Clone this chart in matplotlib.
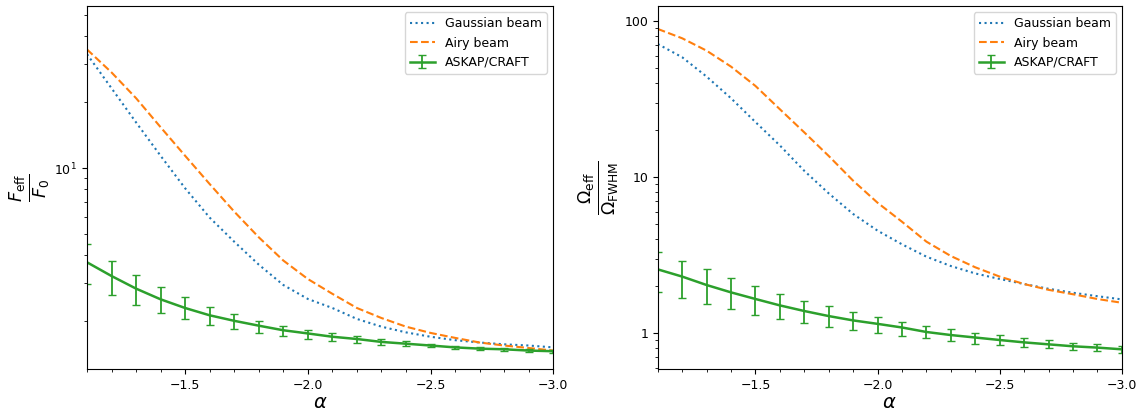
import numpy as np
import matplotlib
matplotlib.use("Agg")
import matplotlib.pyplot as plt
from matplotlib.ticker import MultipleLocator, ScalarFormatter, NullFormatter

# spectral index grid
alpha = [-1.1, -1.2, -1.3, -1.4, -1.5, -1.6, -1.7, -1.8, -1.9, -2.0,
         -2.1, -2.2, -2.3, -2.4, -2.5, -2.6, -2.7, -2.8, -2.9, -3.0]

# left panel: F_eff / F_0
f_gauss = [33.2, 23.2, 16.2, 11.4, 8.1, 5.95, 4.62, 3.63, 2.93, 2.53,
           2.30, 2.05, 1.89, 1.78, 1.70, 1.64, 1.60, 1.57, 1.55, 1.52]
f_airy = [34.9, 27.4, 20.9, 15.4, 11.4, 8.47, 6.34, 4.84, 3.79, 3.12,
          2.67, 2.30, 2.07, 1.89, 1.77, 1.68, 1.60, 1.55, 1.51, 1.47]
f_askap = [3.72, 3.22, 2.82, 2.52, 2.30, 2.13, 2.01, 1.91, 1.82, 1.76,
           1.70, 1.66, 1.61, 1.58, 1.55, 1.52, 1.50, 1.49, 1.47, 1.46]
f_askap_hi = [4.50, 3.79, 3.26, 2.86, 2.57, 2.33, 2.15, 2.01, 1.91, 1.83,
              1.77, 1.71, 1.66, 1.62, 1.58, 1.55, 1.52, 1.51, 1.49, 1.48]
f_askap_lo = [2.95, 2.63, 2.38, 2.19, 2.04, 1.93, 1.85, 1.77, 1.71, 1.66,
              1.63, 1.59, 1.56, 1.54, 1.52, 1.50, 1.48, 1.47, 1.45, 1.44]

# right panel: Omega_eff / Omega_FWHM
o_gauss = [71.5, 58.8, 44.2, 32.1, 22.6, 16.0, 11.0, 7.89, 5.82, 4.55,
           3.72, 3.10, 2.70, 2.42, 2.23, 2.07, 1.93, 1.82, 1.73, 1.65]
o_airy = [89.3, 77.8, 64.8, 51.2, 38.5, 27.3, 19.4, 13.7, 9.51, 6.87,
          5.19, 3.87, 3.13, 2.65, 2.31, 2.07, 1.90, 1.78, 1.66, 1.57]
o_askap = [2.57, 2.31, 2.04, 1.83, 1.66, 1.51, 1.39, 1.29, 1.21, 1.15,
           1.09, 1.02, 0.975, 0.94, 0.906, 0.875, 0.85, 0.826, 0.81, 0.79]
o_askap_hi = [3.34, 2.92, 2.57, 2.27, 2.01, 1.79, 1.62, 1.49, 1.36, 1.27,
              1.19, 1.12, 1.06, 1.01, 0.97, 0.935, 0.90, 0.87, 0.85, 0.83]
o_askap_lo = [1.85, 1.69, 1.55, 1.43, 1.32, 1.23, 1.16, 1.10, 1.05, 1.00,
              0.96, 0.93, 0.89, 0.86, 0.84, 0.82, 0.80, 0.785, 0.77, 0.75]

fig = plt.figure(figsize=(11.4, 4.11), dpi=100)
ax1 = fig.add_axes([0.0763, 0.102, 0.409, 0.883])
ax2 = fig.add_axes([0.577, 0.102, 0.407, 0.883])

panels = [
    (ax1, f_gauss, f_airy, f_askap, f_askap_lo, f_askap_hi,
     r"$\frac{F_{\rm eff}}{F_0}$", (1.21, 55)),
    (ax2, o_gauss, o_airy, o_askap, o_askap_lo, o_askap_hi,
     r"$\frac{\Omega_{\rm eff}}{\Omega_{\rm FWHM}}$", (0.59, 125)),
]

for ax, g, a, s, lo, hi, ylab, ylim in panels:
    s = np.array(s)
    yerr = [s - np.array(lo), np.array(hi) - s]
    ax.plot(alpha, g, ':', color='C0', lw=1.5, label='Gaussian beam')
    ax.plot(alpha, a, '--', color='C1', lw=1.5, label='Airy beam')
    ax.errorbar(alpha, s, yerr=yerr, color='C2', lw=1.8, capsize=3,
                elinewidth=1.3, label='ASKAP/CRAFT')
    ax.set_yscale('log')
    ax.set_xlim(-1.1, -3.0)
    ax.set_ylim(*ylim)
    ax.xaxis.set_major_locator(MultipleLocator(0.5))
    ax.xaxis.set_minor_locator(MultipleLocator(0.1))
    ax.set_xlabel(r"$\alpha$", fontsize=14, labelpad=1)
    ax.set_ylabel(ylab, fontsize=18, labelpad=2)
    ax.tick_params(labelsize=9)
    ax.legend(loc='upper right', fontsize=9)

ax2.yaxis.set_major_formatter(ScalarFormatter())
ax2.yaxis.set_minor_formatter(NullFormatter())

fig.savefig("out.png", dpi=100)
